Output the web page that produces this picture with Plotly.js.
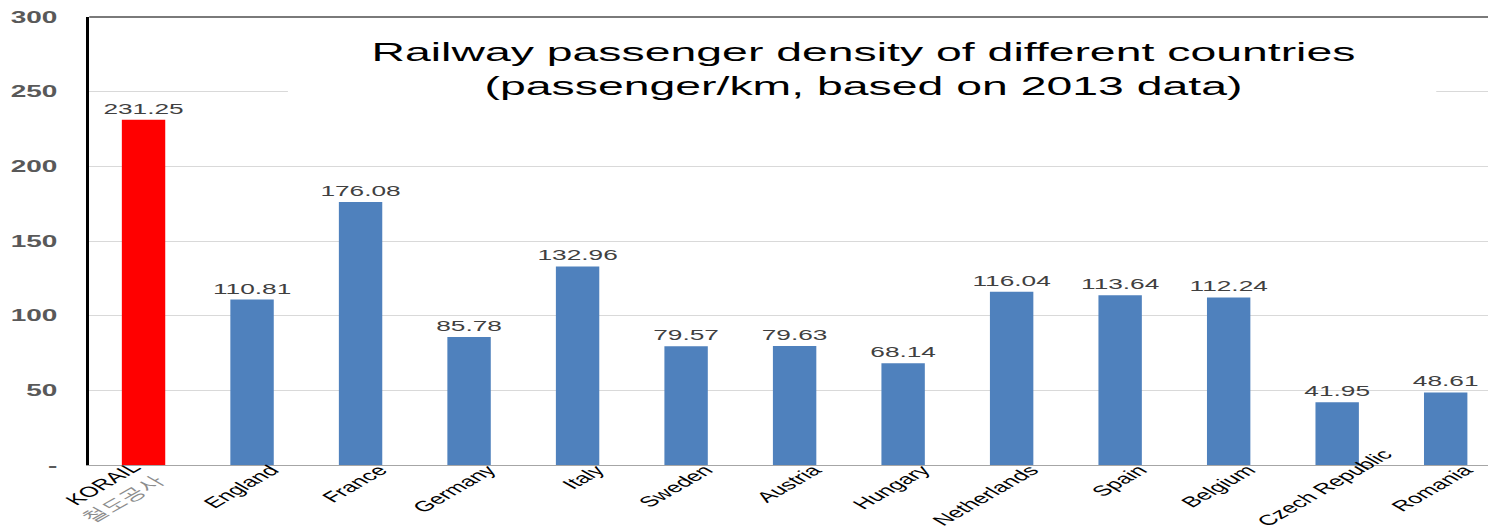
<!DOCTYPE html>
<html>
<head>
<meta charset="utf-8">
<script src="https://cdn.plot.ly/plotly-3.0.1.min.js"></script>
<style>
  html, body { margin: 0; padding: 0; background: #ffffff; overflow: hidden; }
  /* chart is laid out narrow and widened horizontally */
  #chart { width: 850px; height: 528px; transform: scale(1.7506, 1); transform-origin: 0 0; }
</style>
</head>
<body>
<div id="chart"></div>
<script>
// Railway passenger density by country (passenger/km, 2013)
const categories = [
  "KORAIL<br><span style=\"color:#8c8c8c\">철도공사</span>",
  "England", "France", "Germany", "Italy", "Sweden", "Austria",
  "Hungary", "Netherlands", "Spain", "Belgium", "Czech Republic", "Romania"
];
const density = [231.25, 110.81, 176.08, 85.78, 132.96, 79.57, 79.63, 68.14, 116.04, 113.64, 112.24, 41.95, 48.61];
const yTickValues = [0, 50, 100, 150, 200, 250, 300];
const yTickLabels = ["-", "50", "100", "150", "200", "250", "300"];

const highlightColor = "#FF0000";
const baseColor = "#4F81BD";
const barColors = categories.map((c, i) => (i === 0 ? highlightColor : baseColor));
const xIndex = categories.map((c, i) => i);
const xRange = [-0.5, 12.39];
const labelFont = { family: "Liberation Sans, Arial, sans-serif", size: 14.5, color: "#000000" };

// category label groups: each group sits on its own overlaid axis so it can be nudged separately
const korailIdx = [0];
const longLabelIdx = [11];
const regularIdx = xIndex.filter(i => !korailIdx.includes(i) && !longLabelIdx.includes(i));

function labelAxis(idx, shift, standoff, extra) {
  return Object.assign({
    range: xRange,
    tickmode: "array",
    tickvals: idx,
    ticktext: idx.map(i => categories[i]),
    tickangle: -45,
    ticks: "",
    ticklabelshift: shift,
    ticklabelstandoff: standoff,
    ticklabeloverflow: "allow",
    showgrid: false,
    zeroline: false,
    tickfont: labelFont,
    fixedrange: true
  }, extra);
}

const bars = {
  type: "bar",
  x: xIndex,
  y: density,
  width: 0.4,
  marker: { color: barColors, line: { width: 0 } },
  texttemplate: "%{y:.2f}",
  textposition: "outside",
  constraintext: "none",
  cliponaxis: false,
  textfont: { family: "Liberation Sans, Arial, sans-serif", size: 15, color: "#404040" },
  hoverinfo: "x+y"
};

// empty traces that hold the overlaid label axes
const axisHolder2 = { type: "scatter", x: [], y: [], xaxis: "x2", yaxis: "y", hoverinfo: "skip", showlegend: false };
const axisHolder3 = { type: "scatter", x: [], y: [], xaxis: "x3", yaxis: "y", hoverinfo: "skip", showlegend: false };

const layout = {
  width: 850,
  height: 528,
  margin: { l: 51, r: 0, t: 17, b: 63 },
  paper_bgcolor: "#ffffff",
  plot_bgcolor: "#ffffff",
  showlegend: false,
  font: { family: "Liberation Sans, Arial, sans-serif" },
  title: {
    text: "Railway passenger density of different countries<br>(passenger/km, based on 2013 data)",
    font: { family: "Liberation Sans, Arial, sans-serif", size: 26.5, color: "#000000" },
    xref: "paper",
    x: 0.5535,
    xanchor: "center",
    yref: "container",
    y: 0.885,
    yanchor: "top"
  },
  xaxis: labelAxis(regularIdx, 11, -10, { showline: true, linecolor: "#a6a6a6", linewidth: 1 }),
  xaxis2: labelAxis(korailIdx, -6, -10, { overlaying: "x", anchor: "y", side: "bottom", showline: false }),
  xaxis3: labelAxis(longLabelIdx, 27, -23, { overlaying: "x", anchor: "y", side: "bottom", showline: false }),
  yaxis: {
    range: [0, 300],
    tickmode: "array",
    tickvals: yTickValues,
    ticktext: yTickLabels,
    ticks: "outside",
    ticklen: 13,
    tickcolor: "rgba(0,0,0,0)",
    showgrid: true,
    gridcolor: "#d9d9d9",
    gridwidth: 1,
    zeroline: false,
    showline: true,
    linecolor: "#000000",
    linewidth: 2,
    tickfont: { family: "Liberation Sans, Arial, sans-serif", size: 16, color: "#595959", weight: "bold" },
    fixedrange: true
  },
  shapes: [
    // white panel behind the title
    { type: "rect", xref: "paper", yref: "paper", x0: 0.142, x1: 0.963, y0: 0.80, y1: 0.93,
      fillcolor: "#ffffff", line: { width: 0 }, layer: "above" },
    // top frame line
    { type: "line", xref: "paper", yref: "paper", x0: 0, x1: 1, y0: 1, y1: 1,
      line: { color: "#7a7a7a", width: 2 } }
  ]
};

Plotly.newPlot("chart", [bars, axisHolder2, axisHolder3], layout, { displayModeBar: false, staticPlot: true });
</script>
</body>
</html>
